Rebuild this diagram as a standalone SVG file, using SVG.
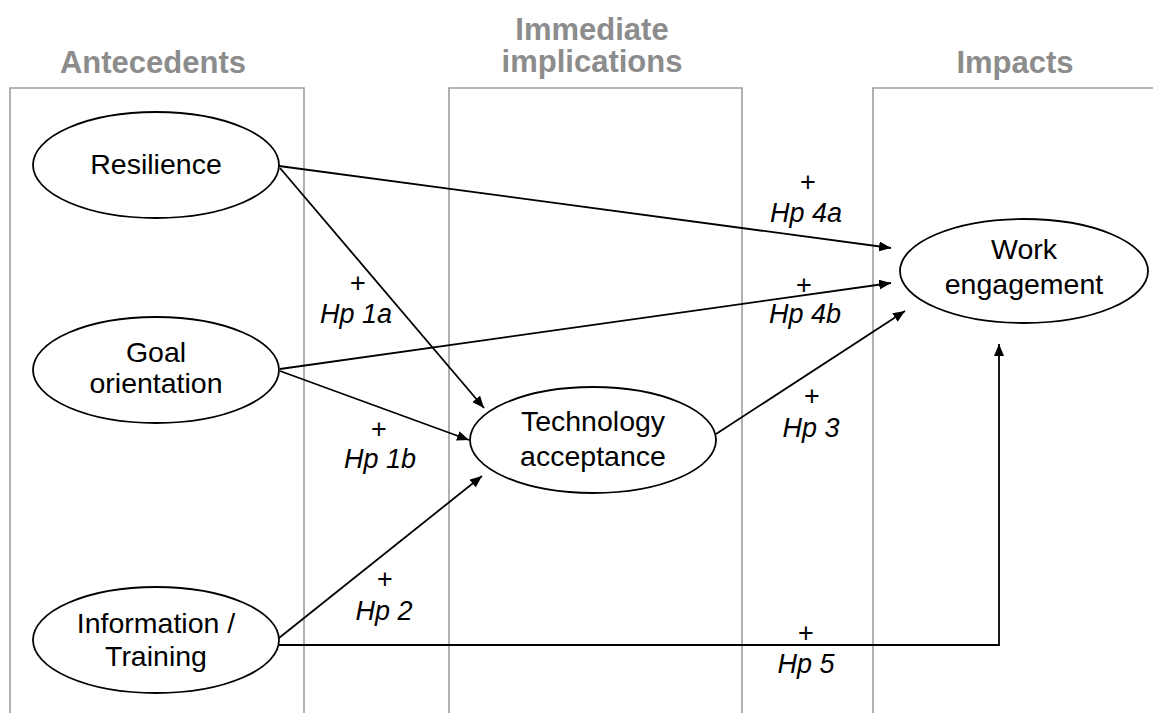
<svg xmlns="http://www.w3.org/2000/svg" width="1153" height="713" viewBox="0 0 1153 713">
<style>
.col{fill:none;stroke:#9e9e9e;stroke-width:1.6}
.hdr{font-family:"Liberation Sans",Arial,sans-serif;font-size:31px;font-weight:bold;fill:#8c8c8c;text-anchor:middle}
.node ellipse{fill:#fff;stroke:#000;stroke-width:1.8}
.lbl{font-family:"Liberation Sans",Arial,sans-serif;font-size:28.5px;fill:#000;text-anchor:middle}
.hp{font-family:"Liberation Sans",Arial,sans-serif;font-size:27px;fill:#000;text-anchor:middle}
.hp.i{font-style:italic}
.edge{fill:none;stroke:#000;stroke-width:1.8;marker-end:url(#ah)}
</style>
<defs>
<marker id="ah" viewBox="0 0 12 10" refX="12" refY="5" markerWidth="12" markerHeight="10" markerUnits="userSpaceOnUse" orient="auto">
<path d="M0,0 L12,5 L0,10 z" fill="#000"/>
</marker>
</defs>
<rect width="1153" height="713" fill="#fff"/>
<g id="columns">
<path class="col" d="M10,720 V88 H304 V720"/>
<path class="col" d="M449,720 V88 H742 V720"/>
<path class="col" d="M873,720 V88 H1160"/>
<text class="hdr" x="153" y="73">Antecedents</text>
<text class="hdr" x="592" y="40">Immediate</text>
<text class="hdr" x="592" y="72">implications</text>
<text class="hdr" x="1015" y="73">Impacts</text>
</g>
<g id="connectors">
<path class="edge" d="M279,166 L891,248"/>
<path class="edge" d="M280,168 L484,408"/>
<path class="edge" d="M280,369 L891,283"/>
<path class="edge" d="M280,371 L469,440"/>
<path class="edge" d="M279,638 L482,476"/>
<path class="edge" d="M716,434 L905,311"/>
<path class="edge" d="M279,645 H999 V344"/>
</g>
<g id="labels">
<text class="hp" x="808" y="191">+</text>
<text class="hp i" x="806" y="222">Hp 4a</text>
<text class="hp" x="804" y="294">+</text>
<text class="hp i" x="805" y="323">Hp 4b</text>
<text class="hp" x="358" y="292">+</text>
<text class="hp i" x="356" y="323">Hp 1a</text>
<text class="hp" x="379" y="438">+</text>
<text class="hp i" x="380" y="468">Hp 1b</text>
<text class="hp" x="385" y="588">+</text>
<text class="hp i" x="384" y="620">Hp 2</text>
<text class="hp" x="812" y="405">+</text>
<text class="hp i" x="811" y="437">Hp 3</text>
<text class="hp" x="806" y="642">+</text>
<text class="hp i" x="806" y="673">Hp 5</text>
</g>
<g id="resilience" class="node">
<ellipse cx="156" cy="165" rx="123" ry="53"/>
<text class="lbl" x="156" y="174">Resilience</text>
</g>
<g id="goal" class="node">
<ellipse cx="156" cy="370" rx="123" ry="53"/>
<text class="lbl" x="156" y="362">Goal</text>
<text class="lbl" x="156" y="393">orientation</text>
</g>
<g id="information" class="node">
<ellipse cx="156" cy="640" rx="123" ry="53"/>
<text class="lbl" x="156" y="633">Information /</text>
<text class="lbl" x="156" y="666">Training</text>
</g>
<g id="technology" class="node">
<ellipse cx="593" cy="440" rx="123" ry="53"/>
<text class="lbl" x="593" y="431">Technology</text>
<text class="lbl" x="593" y="466">acceptance</text>
</g>
<g id="work" class="node">
<ellipse cx="1024" cy="271" rx="124" ry="52"/>
<text class="lbl" x="1024" y="259">Work</text>
<text class="lbl" x="1024" y="294">engagement</text>
</g>
</svg>
